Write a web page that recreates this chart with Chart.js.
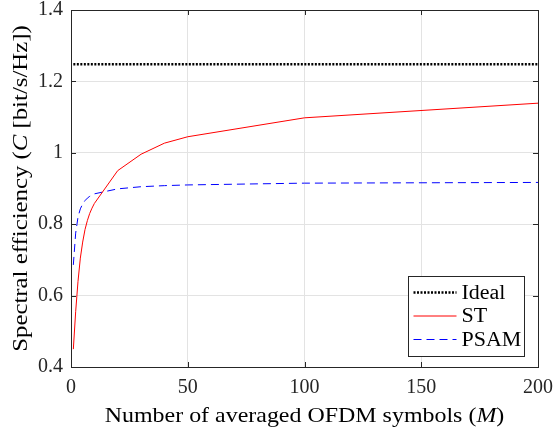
<!DOCTYPE html>
<html>
<head>
<meta charset="utf-8">
<script src="https://cdn.jsdelivr.net/npm/chart.js@4"></script>
<style>
    html, body { margin: 0; padding: 0; background: #fff; }
    #wrap { width: 554px; height: 431px; }
</style>
</head>
<body>
<div id="wrap"><canvas id="se-chart" width="554" height="431"></canvas></div>
<script>
// Number of averaged OFDM symbols
const M = [1, 2, 3, 4, 5, 6, 7, 8, 9, 10, 20, 30, 40, 50, 100, 200];
// Spectral efficiency values
const stC   = [0.45, 0.555, 0.64, 0.705, 0.75, 0.785, 0.81, 0.83, 0.845, 0.858, 0.95, 0.996, 1.027, 1.045, 1.098, 1.139];
const psamC = [0.686, 0.775, 0.82, 0.843, 0.857, 0.866, 0.873, 0.878, 0.882, 0.885, 0.899, 0.905, 0.908, 0.910, 0.915, 0.917];
const idealM = [1, 200];
const idealC = [1.248, 1.248];

const xTicks = [0, 50, 100, 150, 200];
const yTicks = [0.4, 0.6, 0.8, 1.0, 1.2, 1.4];

const SERIF = '"Liberation Serif", "DejaVu Serif", serif';
const AXIS_COLOR = '#262626';

function toPoints(xs, ys) {
    return xs.map((x, i) => ({ x: x, y: ys[i] }));
}

// Draws plain / italic pieces centred on the current origin, stretched sideways by sx
function drawRich(ctx, parts, size, sx) {
    let total = 0;
    parts.forEach(p => {
        ctx.font = (p.italic ? 'italic ' : '') + size + 'px ' + SERIF;
        p.w = ctx.measureText(p.text).width;
        total += p.w;
    });
    ctx.save();
    ctx.scale(sx, 1);
    let x = -total / 2;
    parts.forEach(p => {
        ctx.font = (p.italic ? 'italic ' : '') + size + 'px ' + SERIF;
        ctx.fillText(p.text, x, 0);
        x += p.w;
    });
    ctx.restore();
}

// keep the plot box where the layout padding puts it (no extra room for label overhang)
function noOverhang(axis) {
    axis.paddingTop = 0;
    axis.paddingRight = 0;
    axis.paddingLeft = 0;
    axis.paddingBottom = 0;
}

const matlabFrame = {
    id: 'matlabFrame',
    afterDatasetsDraw(chart) {
        const ctx = chart.ctx;
        const a = chart.chartArea;
        const xs = chart.scales.x;
        const ys = chart.scales.y;
        const tl = 5;
        ctx.save();
        ctx.strokeStyle = AXIS_COLOR;
        ctx.lineWidth = 1;
        ctx.beginPath();
        xTicks.forEach(v => {
            const px = Math.round(xs.getPixelForValue(v)) + 0.5;
            ctx.moveTo(px, a.bottom); ctx.lineTo(px, a.bottom - tl);
            ctx.moveTo(px, a.top); ctx.lineTo(px, a.top + tl);
        });
        yTicks.forEach(v => {
            const py = Math.round(ys.getPixelForValue(v)) + 0.5;
            ctx.moveTo(a.left, py); ctx.lineTo(a.left + tl, py);
            ctx.moveTo(a.right, py); ctx.lineTo(a.right - tl, py);
        });
        ctx.stroke();
        ctx.strokeRect(Math.round(a.left) + 0.5, Math.round(a.top) + 0.5,
                       Math.round(a.right - a.left), Math.round(a.bottom - a.top));

        // legend box inside the axes, lower right
        const bw = 116, bh = 80;
        const bx = Math.round(a.right - 14 - bw) + 0.5;
        const by = Math.round(a.bottom - 11 - bh) + 0.5;
        ctx.fillStyle = '#fff';
        ctx.fillRect(bx, by, bw, bh);
        ctx.strokeRect(bx, by, bw, bh);
        chart.data.datasets.forEach((ds, i) => {
            const ly = by + 16 + i * 23.5;
            ctx.beginPath();
            ctx.strokeStyle = ds.borderColor;
            ctx.lineWidth = ds.borderWidth;
            ctx.setLineDash(ds.borderDash || []);
            ctx.moveTo(bx + 5, ly);
            ctx.lineTo(bx + 48, ly);
            ctx.stroke();
            ctx.setLineDash([]);
            ctx.fillStyle = '#000';
            ctx.font = '20px ' + SERIF;
            ctx.textAlign = 'left';
            ctx.textBaseline = 'middle';
            ctx.save();
            ctx.translate(bx + 53, ly + 1);
            ctx.scale(1.1, 1);
            ctx.fillText(ds.label, 0, 0);
            ctx.restore();
        });

        // axis titles with italic symbols
        ctx.fillStyle = '#000';
        ctx.textBaseline = 'middle';
        ctx.textAlign = 'left';
        ctx.save();
        ctx.translate((a.left + a.right) / 2, 416);
        drawRich(ctx, [
            { text: 'Number of averaged OFDM symbols (' },
            { text: 'M', italic: true },
            { text: ')' }
        ], 21, 1.14);
        ctx.restore();
        ctx.save();
        ctx.translate(21, (a.top + a.bottom) / 2);
        ctx.rotate(-Math.PI / 2);
        drawRich(ctx, [
            { text: 'Spectral efficiency (' },
            { text: 'C', italic: true },
            { text: ' [bit/s/Hz])' }
        ], 21, 1.18);
        ctx.restore();
        ctx.restore();
    }
};

const chart = new Chart(document.getElementById('se-chart').getContext('2d'), {
    type: 'line',
    data: {
        datasets: [
            {
                label: 'Ideal',
                data: toPoints(idealM, idealC),
                borderColor: '#000000',
                borderWidth: 2.5,
                borderDash: [2, 1.5],
                pointRadius: 0,
                fill: false
            },
            {
                label: 'ST',
                data: toPoints(M, stC),
                borderColor: '#ff0000',
                borderWidth: 1,
                pointRadius: 0,
                tension: 0,
                fill: false
            },
            {
                label: 'PSAM',
                data: toPoints(M, psamC),
                borderColor: '#0000ff',
                borderWidth: 1,
                borderDash: [8, 5],
                pointRadius: 0,
                tension: 0,
                fill: false
            }
        ]
    },
    options: {
        responsive: false,
        animation: false,
        devicePixelRatio: 1,
        layout: { padding: { left: 0, right: 16, top: 10, bottom: 0 } },
        plugins: {
            legend: { display: false },
            tooltip: { enabled: false },
            title: { display: false }
        },
        scales: {
            x: {
                type: 'linear',
                min: 0,
                max: 200,
                afterBuildTicks: axis => { axis.ticks = xTicks.map(v => ({ value: v })); },
                afterFit: axis => { axis.height = 64; noOverhang(axis); },
                ticks: {
                    color: '#262626',
                    font: { family: SERIF, size: 20 },
                    padding: 9,
                    maxRotation: 0,
                    callback: v => String(v)
                },
                grid: { color: '#e3e3e3', drawTicks: false },
                border: { display: false }
            },
            y: {
                type: 'linear',
                min: 0.4,
                max: 1.4,
                afterBuildTicks: axis => { axis.ticks = yTicks.map(v => ({ value: v })); },
                afterFit: axis => { axis.width = 71; noOverhang(axis); },
                ticks: {
                    color: '#262626',
                    font: { family: SERIF, size: 20 },
                    padding: 8,
                    callback: v => (Math.abs(v - 1) < 1e-9 ? '1' : v.toFixed(1))
                },
                grid: { color: '#e3e3e3', drawTicks: false },
                border: { display: false }
            }
        }
    },
    plugins: [matlabFrame]
});
</script>
</body>
</html>
